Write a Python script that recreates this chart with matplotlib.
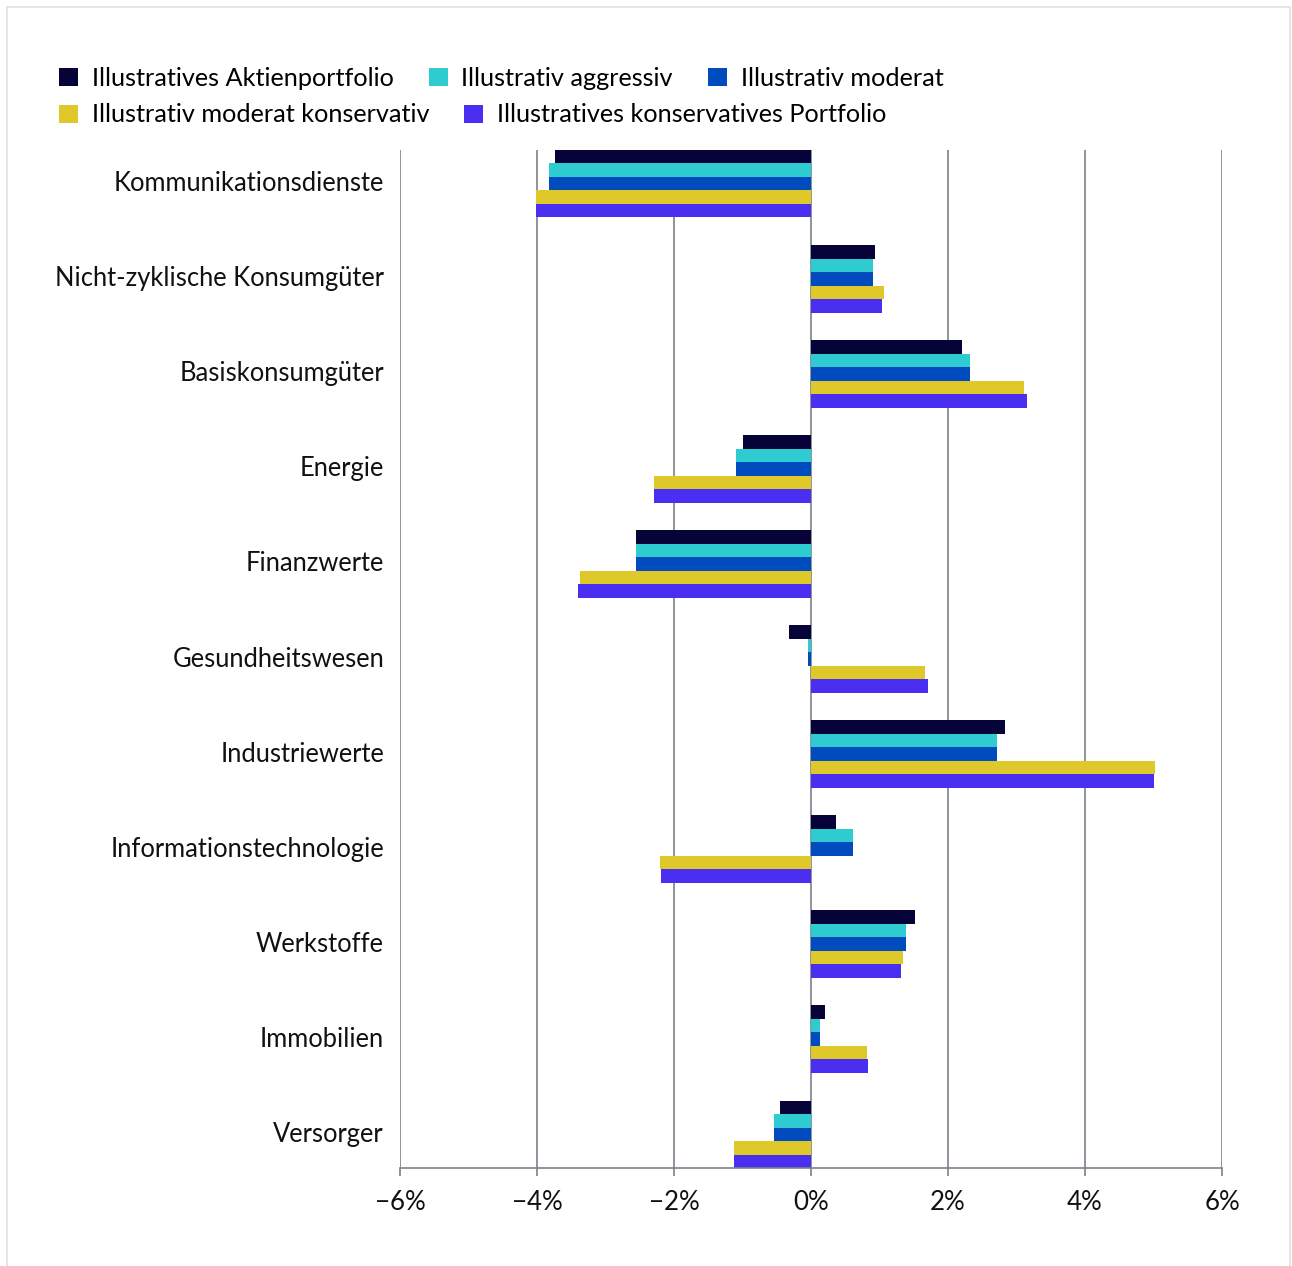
import numpy as np
import matplotlib
matplotlib.use('Agg')
import matplotlib.pyplot as plt
from matplotlib.patches import Rectangle, Patch
from matplotlib.ticker import FuncFormatter

plt.rcParams['font.family'] = ['Lato', 'DejaVu Sans']

# sectors, top to bottom
categories = ['Kommunikationsdienste', 'Nicht-zyklische Konsumgüter', 'Basiskonsumgüter',
              'Energie', 'Finanzwerte', 'Gesundheitswesen', 'Industriewerte',
              'Informationstechnologie', 'Werkstoffe', 'Immobilien', 'Versorger']

series_names = ['Illustratives Aktienportfolio', 'Illustrativ aggressiv', 'Illustrativ moderat',
                'Illustrativ moderat konservativ', 'Illustratives konservatives Portfolio']

# values in percent
aktien = [-3.74, 0.93, 2.20, -0.99, -2.55, -0.32, 2.83, 0.36, 1.52, 0.20, -0.45]
aggressiv = [-3.82, 0.91, 2.32, -1.09, -2.55, -0.04, 2.72, 0.61, 1.39, 0.13, -0.54]
moderat = [-3.82, 0.91, 2.32, -1.09, -2.55, -0.04, 2.72, 0.61, 1.39, 0.13, -0.54]
mod_konservativ = [-4.01, 1.07, 3.11, -2.29, -3.37, 1.66, 5.02, -2.20, 1.34, 0.82, -1.12]
konservativ = [-4.01, 1.04, 3.15, -2.29, -3.40, 1.71, 5.01, -2.19, 1.31, 0.83, -1.12]

colors = ['#060338', '#2ecbd1', '#004bbd', '#dfc92a', '#4b2ff0']
all_series = [aktien, aggressiv, moderat, mod_konservativ, konservativ]

fig = plt.figure(figsize=(12.92, 12.66), dpi=100)
fig.patches.append(Rectangle((7 / 1292, -0.01), 1283 / 1292, 1 - 7 / 1266 + 0.01,
                             transform=fig.transFigure, fill=False,
                             edgecolor='#dde1e6', linewidth=1.2))

ax = fig.add_axes([400 / 1292, 1 - 1168 / 1266, 822 / 1292, 1018 / 1266])

y = np.arange(len(categories))
h = 0.142
for j, (vals, c) in enumerate(zip(all_series, colors)):
    ax.barh(y + (j - 2) * h, vals, height=h, color=c, zorder=3, linewidth=0)

ax.set_xlim(-6, 6)
ax.set_ylim(len(categories) - 1 + 2.5 * h, -2.5 * h)
ax.set_xticks([-6, -4, -2, 0, 2, 4, 6])
ax.xaxis.set_major_formatter(FuncFormatter(lambda v, p: f'{int(v)}%'.replace('-', '\u2212')))
ax.set_yticks(y)
ax.set_yticklabels(categories, va='center')
for lbl in ax.get_yticklabels():
    lbl.set_y(lbl.get_position()[1])
ax.tick_params(axis='y', length=0, pad=11.5, labelsize=18.4, colors='#111111')
ax.tick_params(axis='x', length=6, width=1.2, color='#7a828b', pad=9.5, labelsize=18.6,
               labelcolor='#111111')
ax.grid(axis='x', color='#7a828b', linewidth=1.2, zorder=0)
for s in ['top', 'right', 'left']:
    ax.spines[s].set_visible(False)
ax.spines['bottom'].set_color('#7a828b')
ax.spines['bottom'].set_linewidth(1.2)
ax.spines['bottom'].set_zorder(4)

handles = [Patch(facecolor=c, edgecolor='none') for c in colors]
leg_kw = dict(frameon=False, fontsize=18.2, handlelength=0.74, handleheight=0.74,
              handletextpad=0.55, columnspacing=1.4, borderpad=0, borderaxespad=0)
leg1 = fig.legend(handles[:3], series_names[:3], ncol=3, loc='center left',
                  bbox_to_anchor=(59 / 1292, 1 - 78 / 1266), **leg_kw)
leg2 = fig.legend(handles[3:], series_names[3:], ncol=2, loc='center left',
                  bbox_to_anchor=(59 / 1292, 1 - 115 / 1266), **leg_kw)

fig.savefig('out.png', dpi=100)
